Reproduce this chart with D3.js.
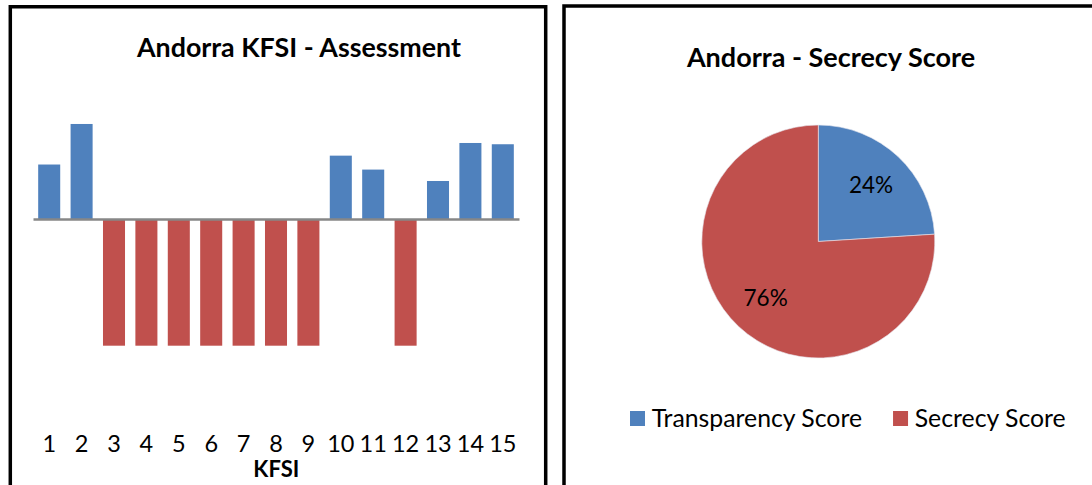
<!DOCTYPE html>
<meta charset="utf-8">
<script src="https://d3js.org/d3.v7.min.js"></script>
<style>
  body { margin: 0; background: #fff; }
  text { font-family: Lato, "Open Sans", sans-serif; fill: #000; }
</style>
<div id="chart"></div>
<script>

    // KFSI assessment values (positive = transparent, negative = secretive)
    var kfsi = ["1", "2", "3", "4", "5", "6", "7", "8", "9", "10", "11", "12", "13", "14", "15"];
    var kfsiValues = [0.43, 0.75, -1, -1, -1, -1, -1, -1, -1, 0.5, 0.39, -1, 0.3, 0.6, 0.59];

    // secrecy score split
    var scoreNames = ["Transparency Score", "Secrecy Score"];
    var scoreValues = [24, 76];

    var blue = "#4F81BD", red = "#C0504D";

    var svg = d3.select("#chart")
        .append("svg")
        .attr("width", 1092)
        .attr("height", 485);

    svg.append("rect").attr("width", 1092).attr("height", 485).attr("fill", "#fff");

    // panel frames (they run off the bottom / right of the picture)
    svg.append("path")
        .attr("d", "M10.3,490 V6.7 H545.7 V490")
        .attr("fill", "none").attr("stroke", "#000").attr("stroke-width", 3.5);
    svg.append("path")
        .attr("d", "M564,490 V6 H1100")
        .attr("fill", "none").attr("stroke", "#000").attr("stroke-width", 3.5);

    // ---------- left: bar chart ----------
    var x = d3.scaleBand()
        .domain(kfsi)
        .range([33, 519])
        .paddingInner(0.32)
        .paddingOuter(0.16);

    var y = d3.scaleLinear()
        .domain([-1, 1])
        .range([345.7, 92.3]);

    svg.append("text")
        .attr("x", 299)
        .attr("y", 56.7)
        .attr("text-anchor", "middle")
        .style("font-weight", "bold")
        .style("font-size", "26.8px")
        .text("Andorra KFSI - Assessment");

    svg.selectAll(".bar")
        .data(kfsiValues)
        .enter()
        .append("rect")
        .attr("class", "bar")
        .attr("x", function(d, i) { return x(kfsi[i]); })
        .attr("width", x.bandwidth())
        .attr("y", function(d) { return y(Math.max(0, d)); })
        .attr("height", function(d) { return Math.abs(y(d) - y(0)); })
        .attr("fill", function(d) { return d < 0 ? red : blue; });

    // zero line
    var zeroAxis = svg.append("g")
        .attr("transform", "translate(0," + y(0) + ")")
        .call(d3.axisBottom(x).tickSize(0).tickFormat(""));
    zeroAxis.select(".domain")
        .attr("stroke", "#878787")
        .attr("stroke-width", 2.5);

    // category labels sit low, below the plot
    var labelAxis = svg.append("g")
        .attr("transform", "translate(0,451.5)")
        .call(d3.axisBottom(x).tickSize(0));
    labelAxis.select(".domain").remove();
    labelAxis.selectAll("text")
        .attr("y", 0)
        .attr("dy", 0)
        .style("font-family", "Lato, sans-serif")
        .style("font-size", "23.5px")
        .attr("fill", "#000");

    svg.append("text")
        .attr("x", 276.3)
        .attr("y", 476.5)
        .attr("text-anchor", "middle")
        .style("font-weight", "bold")
        .style("font-size", "22px")
        .text("KFSI");

    // ---------- right: pie chart ----------
    svg.append("text")
        .attr("x", 831)
        .attr("y", 66.7)
        .attr("text-anchor", "middle")
        .style("font-weight", "bold")
        .style("font-size", "27px")
        .text("Andorra - Secrecy Score");

    var pie = d3.pie().sort(null);
    var arc = d3.arc().innerRadius(0).outerRadius(116.5);
    var labelArc = d3.arc().innerRadius(77).outerRadius(77);
    var colors = [blue, red];

    var g = svg.append("g").attr("transform", "translate(818.3,241.5)");

    var slices = pie(scoreValues);

    g.selectAll("path")
        .data(slices)
        .enter()
        .append("path")
        .attr("d", arc)
        .attr("fill", function(d, i) { return colors[i]; })
        .attr("stroke", "#e8e8f0")
        .attr("stroke-width", 0.6);

    g.selectAll(".plabel")
        .data(slices)
        .enter()
        .append("text")
        .attr("class", "plabel")
        .attr("transform", function(d) { return "translate(" + labelArc.centroid(d) + ")"; })
        .attr("dy", "0.36em")
        .attr("text-anchor", "middle")
        .style("font-size", "22.5px")
        .text(function(d) { return d.data + "%"; });

    // legend
    var legend = svg.append("g").attr("transform", "translate(630,411)");
    var lx = 0;
    scoreNames.forEach(function(name, i) {
        var item = legend.append("g").attr("transform", "translate(" + lx + ",0)");
        item.append("rect")
            .attr("width", 15).attr("height", 15)
            .attr("fill", colors[i]);
        var t = item.append("text")
            .attr("x", 21.7)
            .attr("y", 15.7)
            .style("font-size", "24.8px")
            .text(name);
        lx += 21.7 + t.node().getComputedTextLength() + 31;
    });

</script>
